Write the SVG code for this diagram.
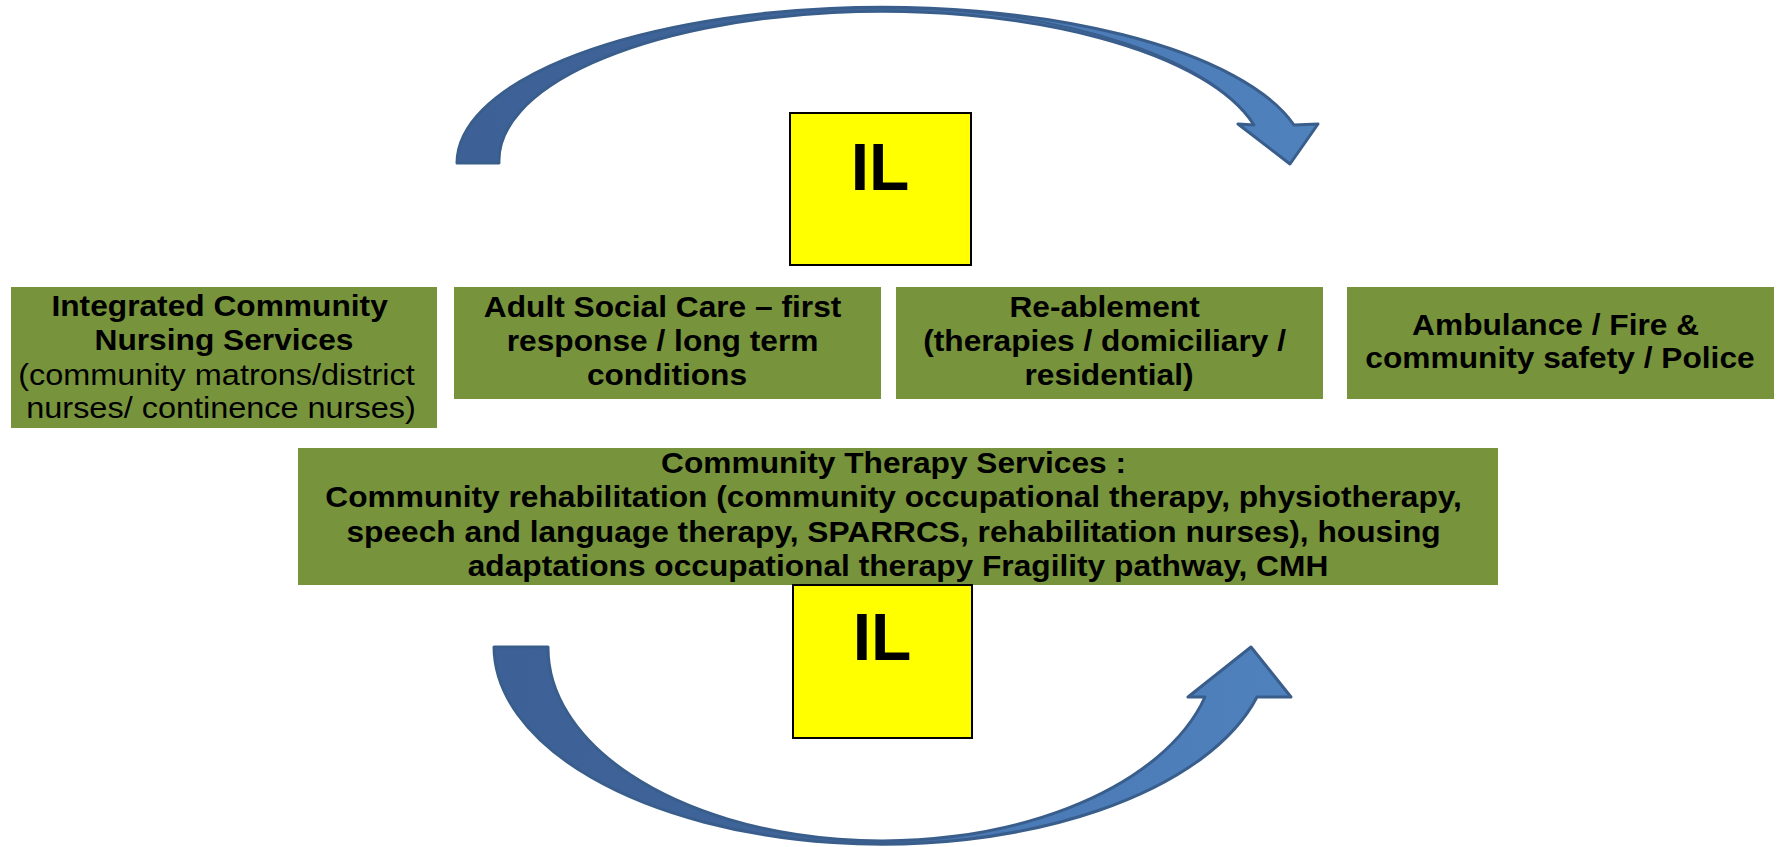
<svg xmlns="http://www.w3.org/2000/svg" width="1777" height="847" viewBox="0 0 1777 847">
  <defs>
    <linearGradient id="ribbon" x1="0" y1="0" x2="1" y2="0">
      <stop offset="0" stop-color="#3D6196"/>
      <stop offset="0.5" stop-color="#40669B"/>
      <stop offset="0.62" stop-color="#4A7AB5"/>
      <stop offset="1" stop-color="#4F81BD"/>
    </linearGradient>
  </defs>
  <style>
    .svc { fill: #77933C; }
    .il { fill: #FFFF00; stroke: #000000; stroke-width: 2; }
    .il-label { font-family: "Liberation Sans", Arial, sans-serif; font-weight: bold; font-size: 66px; fill: #000000; text-anchor: middle; }
    .t { font-family: "Liberation Sans", Arial, sans-serif; font-size: 29.5px; fill: #000000; text-anchor: middle; }
    .b { font-weight: bold; }
    .arrow { fill: url(#ribbon); stroke: #3A5E8C; stroke-width: 3; stroke-linejoin: round; }
    .fold { fill: none; stroke: #3A5E8C; stroke-width: 2; }
  </style>

  <rect width="1777" height="847" fill="#FFFFFF"/>

  <!-- curved arrows linking the services -->
  <g id="connectors">
    <path id="arrow-top" class="arrow" d="M 457,163 A 425 156 0 0 1 1294,125 L 1318,124 L 1290,164 L 1238,124 L 1254,125 A 383 149 0 0 0 499,163 Z"/>
    <path class="fold" d="M 900,8 A 384 155 0 0 1 1254,125"/>
    <path id="arrow-bottom" class="arrow" d="M 494,647 A 388 198 0 0 0 1257,697 L 1291,697 L 1251,647 L 1188,697 L 1205,697 A 334 193 0 0 1 548,647 Z"/>
  </g>

  <g id="il-top">
    <rect class="il" x="790" y="113" width="181" height="152"/>
    <text class="il-label" x="880" y="190">IL</text>
  </g>

  <g id="nursing">
    <rect class="svc" x="11" y="287" width="426" height="141"/>
    <text class="t b" transform="translate(224 0) scale(1.075 1)">
      <tspan x="0" y="316">Integrated Community</tspan>
      <tspan x="0" y="350">Nursing Services</tspan>
    </text>
    <text class="t" transform="translate(221 0) scale(1.1 1)">
      <tspan x="0" y="385">(community matrons/district</tspan>
      <tspan x="0" y="418">nurses/ continence nurses)</tspan>
    </text>
  </g>

  <g id="social-care">
    <rect class="svc" x="454" y="287" width="427" height="112"/>
    <text class="t b" transform="translate(667 0) scale(1.075 1)">
      <tspan x="0" y="317">Adult Social Care – first</tspan>
      <tspan x="0" y="351">response / long term</tspan>
      <tspan x="0" y="385">conditions</tspan>
    </text>
  </g>

  <g id="reablement">
    <rect class="svc" x="896" y="287" width="427" height="112"/>
    <text class="t b" transform="translate(1109 0) scale(1.075 1)">
      <tspan x="0" y="317">Re-ablement</tspan>
      <tspan x="0" y="351">(therapies / domiciliary /</tspan>
      <tspan x="0" y="385">residential)</tspan>
    </text>
  </g>

  <g id="emergency">
    <rect class="svc" x="1347" y="287" width="427" height="112"/>
    <text class="t b" transform="translate(1560 0) scale(1.075 1)">
      <tspan x="0" y="335">Ambulance / Fire &amp;</tspan>
      <tspan x="0" y="368">community safety / Police</tspan>
    </text>
  </g>

  <g id="therapy">
    <rect class="svc" x="298" y="448" width="1200" height="137"/>
    <text class="t b" transform="translate(898 0) scale(1.075 1)">
      <tspan x="0" y="473">Community Therapy Services :</tspan>
      <tspan x="0" y="507">Community rehabilitation (community occupational therapy, physiotherapy,</tspan>
      <tspan x="0" y="542">speech and language therapy, SPARRCS, rehabilitation nurses), housing</tspan>
      <tspan x="0" y="576">adaptations occupational therapy Fragility pathway, CMH</tspan>
    </text>
  </g>

  <g id="il-bottom">
    <rect class="il" x="793" y="585" width="179" height="153"/>
    <text class="il-label" x="882" y="660">IL</text>
  </g>
</svg>
